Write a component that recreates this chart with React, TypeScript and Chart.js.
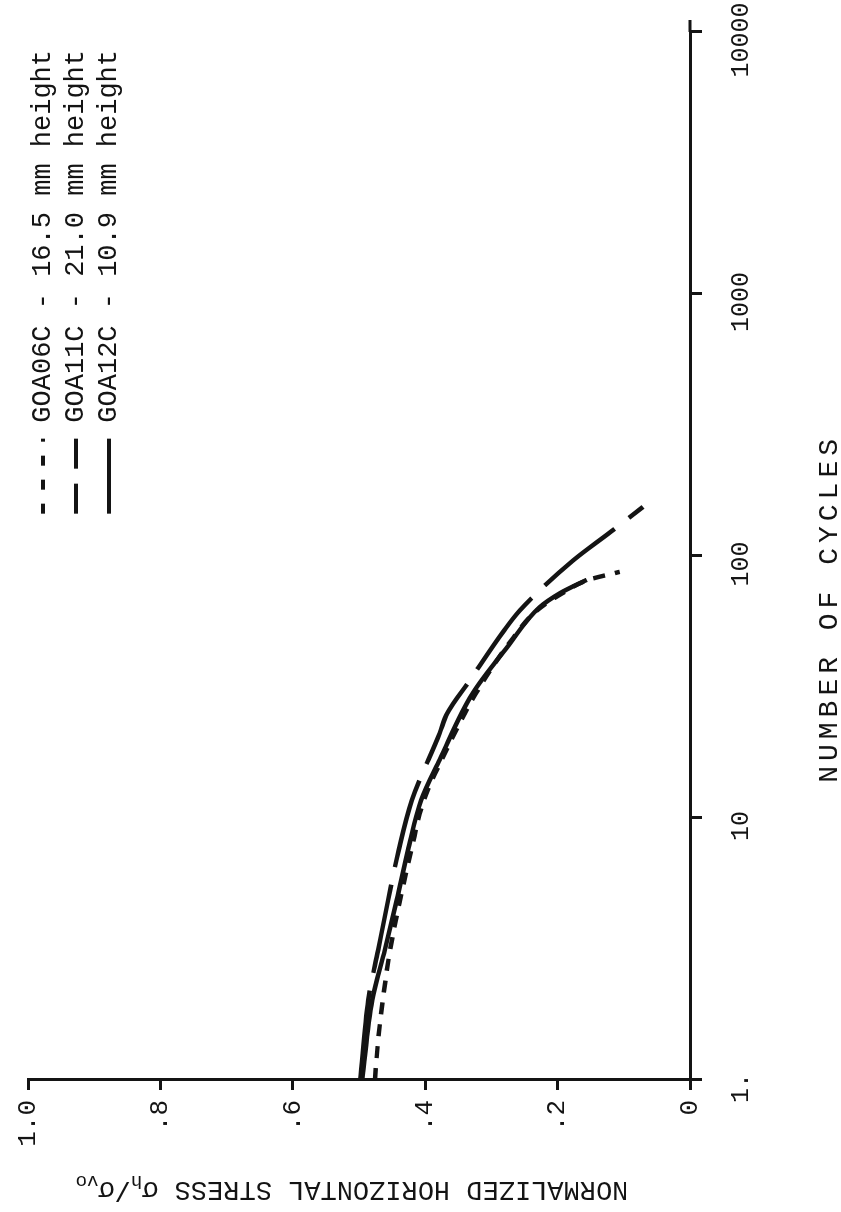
import React, { useEffect, useRef } from "react";
import { Chart, registerables } from "chart.js";

Chart.register(...registerables);

// ---- data (cycles on log axis, normalized horizontal stress) ----
const cycleTicks = [1, 10, 100, 1000, 10000];
const cycleTickLabels = ["1.", "10", "100", "1000", "10000"];
const stressTicks = [0, 0.2, 0.4, 0.6, 0.8, 1.0];
const stressTickLabels = ["0", ".2", ".4", ".6", ".8", "1.0"];
const seriesNames = [
  "GOA06C - 16.5 mm height",
  "GOA11C - 21.0 mm height",
  "GOA12C - 10.9 mm height",
];

const goa06cCycles = [1, 1.42, 2.02, 3.14, 4.86, 7.54, 11.7, 16.7, 30, 48, 62, 72, 81, 87];
const goa06cStress = [0.476, 0.471, 0.464, 0.453, 0.438, 0.421, 0.402, 0.375, 0.323, 0.269, 0.231, 0.193, 0.154, 0.106];

const goa11cCycles = [1, 2.02, 3.14, 4.86, 7.54, 11.7, 21.1, 25, 33.7, 51.5, 62, 96, 123, 154];
const goa11cStress = [0.498, 0.486, 0.471, 0.456, 0.44, 0.42, 0.378, 0.367, 0.332, 0.282, 0.257, 0.177, 0.121, 0.071];

const goa12cCycles = [1, 2.02, 3.14, 4.86, 7.54, 11.7, 16.7, 30, 44.9, 63.8, 72.2, 81.1];
const goa12cStress = [0.495, 0.48, 0.461, 0.443, 0.426, 0.406, 0.378, 0.328, 0.276, 0.227, 0.196, 0.156];

const INK = "#141414";
const MONO = '"Liberation Mono", "DejaVu Sans Mono", monospace';

const toPoints = (xs: number[], ys: number[]) => xs.map((x, i) => ({ x, y: ys[i] }));

const annotationPlugin = {
  id: "rotatedAnnotations",
  afterDraw(chart: any) {
    const ctx = chart.ctx as CanvasRenderingContext2D;
    const area = chart.chartArea;
    ctx.save();
    ctx.fillStyle = INK;
    ctx.strokeStyle = INK;

    // axis line extension beyond last decade
    ctx.lineWidth = 3;
    ctx.beginPath();
    ctx.moveTo(area.right, area.bottom);
    ctx.lineTo(area.right + 12, area.bottom);
    ctx.stroke();

    // stress axis title with subscripts
    ctx.save();
    ctx.translate(30, (area.top + area.bottom) / 2 - 7);
    ctx.rotate(-Math.PI / 2);
    ctx.textBaseline = "alphabetic";
    const big = `27px ${MONO}`;
    const small = `19px ${MONO}`;
    const pieces = [
      { t: "NORMALIZED HORIZONTAL STRESS ", f: big, dy: 0 },
      { t: "σ", f: big, dy: 0 },
      { t: "h", f: small, dy: 6 },
      { t: "/", f: big, dy: 0 },
      { t: "σ", f: big, dy: 0 },
      { t: "vo", f: small, dy: 6 },
    ];
    let total = 0;
    for (const p of pieces) {
      ctx.font = p.f;
      total += ctx.measureText(p.t).width;
    }
    let px = -total / 2;
    ctx.textAlign = "left";
    for (const p of pieces) {
      ctx.font = p.f;
      ctx.fillText(p.t, px, p.dy);
      px += ctx.measureText(p.t).width;
    }
    ctx.restore();

    // cycles axis title
    ctx.save();
    ctx.font = `28px ${MONO}`;
    (ctx as any).letterSpacing = "5px";
    ctx.textAlign = "center";
    ctx.textBaseline = "alphabetic";
    ctx.fillText("NUMBER OF CYCLES", area.left + 0.45 * (area.right - area.left), 837);
    ctx.restore();

    // legend (text ends near the top of the page once rotated)
    const rows = [43, 76, 109];
    const textEnd = 1162;
    chart.data.datasets.forEach((ds: any, i: number) => {
      const y = rows[i];
      ctx.font = `27px ${MONO}`;
      const w = ctx.measureText(ds.label).width;
      const textStart = textEnd - w;
      const x1 = textStart - 16;
      const x0 = x1 - 75;
      ctx.save();
      ctx.lineWidth = 4;
      ctx.lineCap = "butt";
      ctx.setLineDash(ds.legendDash || []);
      ctx.beginPath();
      ctx.moveTo(x0, y);
      ctx.lineTo(x1, y);
      ctx.stroke();
      ctx.restore();
      ctx.textAlign = "left";
      ctx.textBaseline = "middle";
      ctx.fillText(ds.label, textStart, y);
    });

    ctx.restore();
  },
};

export default function App() {
  const canvasRef = useRef<HTMLCanvasElement | null>(null);

  useEffect(() => {
    if (!canvasRef.current) return;
    const common = {
      borderColor: INK,
      backgroundColor: INK,
      borderWidth: 4.5,
      pointRadius: 0,
      fill: false,
      cubicInterpolationMode: "monotone" as const,
      borderCapStyle: "butt" as const,
    };
    const chart = new Chart(canvasRef.current, {
      type: "line",
      data: {
        datasets: [
          {
            ...common,
            label: seriesNames[0],
            data: toPoints(goa06cCycles, goa06cStress),
            borderDash: [12, 10],
            legendDash: [10, 14],
          } as any,
          {
            ...common,
            label: seriesNames[1],
            data: toPoints(goa11cCycles, goa11cStress),
            borderDash: [90, 18],
            legendDash: [30, 15],
          } as any,
          {
            ...common,
            label: seriesNames[2],
            data: toPoints(goa12cCycles, goa12cStress),
            legendDash: [],
          } as any,
        ],
      },
      options: {
        responsive: false,
        animation: false,
        devicePixelRatio: 1,
        layout: { padding: { top: 28, right: 32, left: 0, bottom: 0 } },
        plugins: {
          legend: { display: false },
          tooltip: { enabled: false },
        },
        scales: {
          x: {
            type: "logarithmic",
            position: "bottom",
            min: 1,
            max: 10000,
            afterBuildTicks: (scale: any) => {
              scale.ticks = cycleTicks.map((v) => ({ value: v }));
            },
            afterFit: (scale: any) => {
              scale.height = 151;
              scale.paddingLeft = 0;
              scale.paddingRight = 0;
            },
            ticks: {
              autoSkip: false,
              maxRotation: 0,
              minRotation: 0,
              color: INK,
              padding: 24,
              labelOffset: -8,
              font: { family: MONO, size: 25 },
              callback: (value: any) => {
                const i = cycleTicks.indexOf(Number(value));
                return i >= 0 ? cycleTickLabels[i] : "";
              },
            },
            grid: {
              display: true,
              drawOnChartArea: false,
              drawTicks: true,
              tickLength: 12,
              lineWidth: 3,
              color: INK,
            },
            border: { display: true, color: INK, width: 3 },
            title: { display: false },
          },
          y: {
            type: "linear",
            position: "left",
            min: 0,
            max: 1,
            afterBuildTicks: (scale: any) => {
              scale.ticks = stressTicks.map((v) => ({ value: v }));
            },
            afterFit: (scale: any) => {
              scale.width = 132;
              scale.paddingTop = 0;
              scale.paddingBottom = 0;
            },
            ticks: {
              autoSkip: false,
              color: INK,
              padding: 10,
              font: { family: MONO, size: 26 },
              callback: (value: any) => {
                const i = stressTicks.findIndex((t) => Math.abs(t - Number(value)) < 1e-6);
                return i >= 0 ? stressTickLabels[i] : "";
              },
            },
            grid: {
              display: true,
              drawOnChartArea: false,
              drawTicks: true,
              tickLength: 10,
              lineWidth: 3,
              color: INK,
            },
            border: { display: true, color: INK, width: 3 },
            title: { display: false },
          },
        },
      },
      plugins: [annotationPlugin],
    });
    return () => chart.destroy();
  }, []);

  return (
    <div
      style={{
        position: "absolute",
        left: 0,
        top: 0,
        width: 841,
        height: 1212,
        overflow: "hidden",
        background: "#fff",
      }}
    >
      <div
        style={{
          position: "absolute",
          left: 0,
          top: 0,
          width: 1212,
          height: 841,
          transformOrigin: "0 0",
          transform: "translateY(1212px) rotate(-90deg)",
        }}
      >
        <canvas
          ref={canvasRef}
          width={1212}
          height={841}
          style={{ display: "block", width: 1212, height: 841 }}
        />
      </div>
    </div>
  );
}
